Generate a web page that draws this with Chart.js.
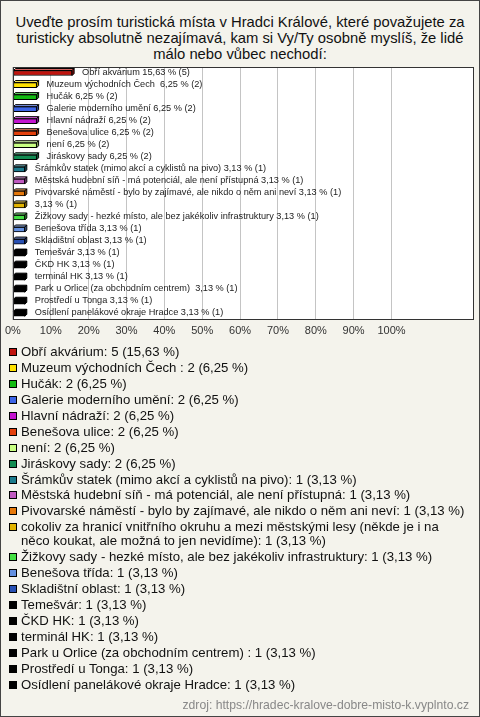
<!DOCTYPE html>
<html>
<head>
<meta charset="utf-8">
<script src="https://cdn.jsdelivr.net/npm/chart.js@4/dist/chart.umd.min.js"></script>
<style>
  html,body{margin:0;padding:0}
  body{width:480px;height:717px;overflow:hidden;font-family:"Liberation Sans",Arial,sans-serif}
  #page{position:relative;width:478px;height:715px;border:1px solid #444;background:#f4f3ec}
  #title{position:absolute;top:13px;left:0;width:478px;text-align:center;font-size:14.8px;line-height:16px;color:#111}
  #box{position:absolute;top:59px;left:-1px;width:480px;height:285px}
  #legend{position:absolute;top:344px;left:8px;width:458px;font-size:13.2px;line-height:14px;color:#111}
  .it{display:flex;align-items:flex-start;margin-bottom:1.95px}
  .sw{flex:none;width:6px;height:6px;border:1px solid #000;margin:3px 4px 0 0}
  #src{position:absolute;right:10px;top:697px;font-size:12.2px;color:#888}
</style>
</head>
<body>
<div id="page">
  <div id="title">Uveďte prosím turistická místa v Hradci Králové, které považujete za<br>turisticky absolutně nezajímavá, kam si Vy/Ty osobně myslíš, že lidé<br>málo nebo vůbec nechodí:</div>
  <div id="box"><canvas id="c"></canvas></div>
  <div id="legend"></div>
  <div id="src">zdroj: https://hradec-kralove-dobre-misto-k.vyplnto.cz</div>
</div>
<script>
const names=['Obří akvárium','Muzeum východních Čech ','Hučák','Galerie moderního umění','Hlavní nádraží','Benešova ulice','není','Jiráskovy sady',
  'Šrámkův statek (mimo akcí a cyklistů na pivo)','Městská hudební síň - má potenciál, ale není přístupná','Pivovarské náměstí - bylo by zajímavé, ale nikdo o něm ani neví',
  'cokoliv za hranicí vnitřního okruhu a mezi městskými lesy (někde je i na něco koukat, ale možná to jen nevidíme)',
  'Žižkovy sady - hezké místo, ale bez jakékoliv infrastruktury','Benešova třída','Skladištní oblast','Temešvár','ČKD HK','terminál HK',
  'Park u Orlice (za obchodním centrem) ','Prostředí u Tonga','Osídlení panelákové okraje Hradce'];
// labels shown next to bars (long answer has no name there)
const barNames=['Obří akvárium','Muzeum východních Čech ','Hučák','Galerie moderního umění','Hlavní nádraží','Benešova ulice','není','Jiráskovy sady',
  'Šrámkův statek (mimo akcí a cyklistů na pivo)','Městská hudební síň - má potenciál, ale není přístupná','Pivovarské náměstí - bylo by zajímavé, ale nikdo o něm ani neví',
  '','Žižkovy sady - hezké místo, ale bez jakékoliv infrastruktury','Benešova třída','Skladištní oblast','Temešvár','ČKD HK','terminál HK',
  'Park u Orlice (za obchodním centrem) ','Prostředí u Tonga','Osídlení panelákové okraje Hradce'];
const counts=[5,2,2,2,2,2,2,2,1,1,1,1,1,1,1,1,1,1,1,1,1];
const percents=[15.63,6.25,6.25,6.25,6.25,6.25,6.25,6.25,3.13,3.13,3.13,3.13,3.13,3.13,3.13,3.13,3.13,3.13,3.13,3.13,3.13];
const colors=['#c0140e','#ffe200','#12bb12','#3c64e6','#c414d0','#e4400c','#c8ff82','#128c52','#1c7a8c','#c05ac0','#e6780a','#e2b400','#44e044','#6490e0','#2850b4',
  '#000','#000','#000','#000','#000','#000'];
const xTicks=[0,10,20,30,40,50,60,70,80,90,100];

const fmt=v=>v.toFixed(2).replace('.',',');

// legend
const lg=document.getElementById('legend');
names.forEach((n,i)=>{
  const d=document.createElement('div');d.className='it';
  d.innerHTML='<span class="sw" style="background:'+colors[i]+'"></span><span></span>';
  d.lastChild.textContent=n+': '+counts[i]+' ('+fmt(percents[i])+' %)';
  lg.appendChild(d);
});

const shade=(hex,f)=>{
  const n=parseInt(hex.length===4?hex.replace(/#(.)(.)(.)/,'#$1$1$2$2$3$3').slice(1):hex.slice(1),16);
  const ch=[n>>16,(n>>8)&255,n&255].map(c=>Math.round(f>1?c+(255-c)*(f-1):c*f));
  return 'rgb('+ch.join(',')+')';
};

const plotBox={id:'plotBox',
  beforeDraw(ch){const a=ch.chartArea,c=ch.ctx;c.save();c.fillStyle='#fff';c.fillRect(a.left,a.top,a.right-a.left,a.bottom-a.top);c.restore();},
  afterDatasetsDraw(ch){
    const c=ch.ctx,a=ch.chartArea;
    c.save();
    ch.getDatasetMeta(0).data.forEach((b,i)=>{
      // 3d top and end faces
      const h=b.height/2,dp=2,top=b.y-h,x0=b.base,x1=b.x;
      c.fillStyle=colors[i]==='#000'?'#000':shade(colors[i],1.35);
      c.strokeStyle='#000';c.lineWidth=1;
      c.beginPath();c.moveTo(x0,top);c.lineTo(x0+dp,top-dp);c.lineTo(x1+dp,top-dp);c.lineTo(x1,top);c.closePath();c.fill();c.stroke();
      c.fillStyle=colors[i]==='#000'?'#000':shade(colors[i],0.7);
      c.beginPath();c.moveTo(x1,top);c.lineTo(x1+dp,top-dp);c.lineTo(x1+dp,b.y+h-dp);c.lineTo(x1,b.y+h);c.closePath();c.fill();c.stroke();
      c.fillStyle='#222';c.font='9.2px "Liberation Sans", Arial, sans-serif';c.textBaseline='middle';
      const t=(barNames[i]?barNames[i]+' ':'')+fmt(percents[i])+' % ('+counts[i]+')';
      c.fillText(t,x1+10,b.y-1);
    });
    c.strokeStyle='#333';c.lineWidth=1;
    c.strokeRect(Math.round(a.left)+0.5,Math.round(a.top)+0.5,Math.round(a.right-a.left)-1,Math.round(a.bottom-a.top)-1);
    c.restore();
  }
};

new Chart(document.getElementById('c'),{
  type:'bar',
  data:{labels:names,datasets:[{data:percents,backgroundColor:colors,borderColor:'#000',borderWidth:1,barThickness:5,borderSkipped:false}]},
  options:{
    indexAxis:'y',responsive:true,maintainAspectRatio:false,animation:false,
    layout:{padding:{left:10,right:6,top:7,bottom:2}},
    plugins:{legend:{display:false},tooltip:{enabled:false}},
    scales:{
      x:{min:0,max:121.8,
        afterBuildTicks:s=>{s.ticks=xTicks.map(v=>({value:v}));},
        ticks:{callback:v=>v+'%',color:'#333',font:{size:11,family:'"Liberation Sans", Arial, sans-serif'},padding:5,maxRotation:0,autoSkip:false},
        grid:{color:'#c4c4c4',drawTicks:false},border:{display:false}},
      y:{display:false}
    }
  },
  plugins:[plotBox]
});
</script>
</body>
</html>
